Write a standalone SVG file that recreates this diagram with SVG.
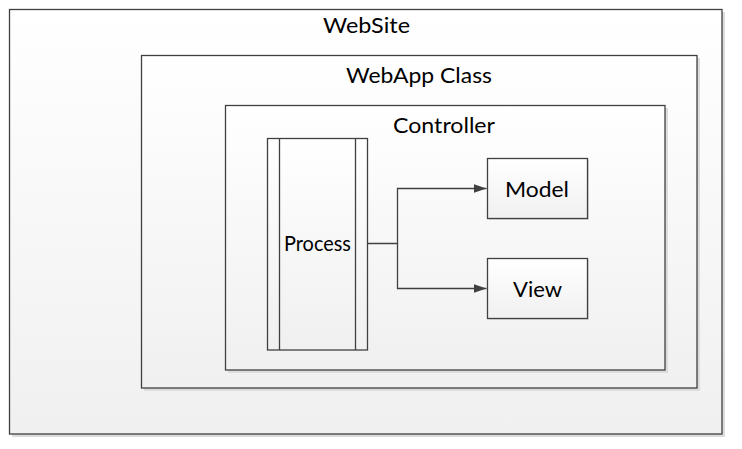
<svg xmlns="http://www.w3.org/2000/svg" width="742" height="449" viewBox="0 0 742 449">
<defs>
<linearGradient id="g" x1="0" y1="0" x2="0" y2="1">
<stop offset="0" stop-color="#ffffff"/>
<stop offset="1" stop-color="#f0f0f0"/>
</linearGradient>
<marker id="arr" markerWidth="13" markerHeight="9" refX="13" refY="4.5" orient="auto" markerUnits="userSpaceOnUse">
<path d="M0,0 L13,4.5 L0,9 Z" fill="#404040"/>
</marker>
</defs>
<style>
.box{fill:url(#g);stroke:#404040;stroke-width:1.3}
.sh{fill:#dcdcdc}
.t{font-family:Lato,"Open Sans",sans-serif;fill:#000;text-anchor:middle;font-size:22px}
.c{fill:none;stroke:#404040;stroke-width:1.3}
</style>
<rect width="742" height="449" fill="#ffffff"/>
<g id="website">
<rect class="sh" x="12" y="12" width="713" height="425"/>
<rect class="box" x="9.5" y="9.5" width="712.5" height="424.5"/>
<text class="t" x="366.5" y="33" textLength="87" lengthAdjust="spacingAndGlyphs">WebSite</text>
</g>
<g id="webapp">
<rect class="sh" x="144" y="58" width="556" height="333"/>
<rect class="box" x="141.5" y="55.5" width="555.5" height="332.5"/>
<text class="t" x="419" y="83" textLength="146" lengthAdjust="spacingAndGlyphs">WebApp Class</text>
</g>
<g id="controller">
<rect class="sh" x="228" y="108" width="440" height="265"/>
<rect class="box" x="225.5" y="105.5" width="439.5" height="264.5"/>
<text class="t" x="444" y="133" textLength="102" lengthAdjust="spacingAndGlyphs">Controller</text>
</g>
<g id="process">
<rect class="box" x="267.5" y="138.5" width="100" height="211.5"/>
<line class="c" x1="279.5" y1="138.5" x2="279.5" y2="350"/>
<line class="c" x1="355.5" y1="138.5" x2="355.5" y2="350"/>
<text class="t" x="317.5" y="251" textLength="67" lengthAdjust="spacingAndGlyphs">Process</text>
</g>
<g id="model">
<rect class="sh" x="489" y="160" width="100" height="60"/>
<rect class="box" x="487.5" y="158.5" width="100" height="60"/>
<text class="t" x="537" y="196.5" textLength="64" lengthAdjust="spacingAndGlyphs">Model</text>
</g>
<g id="view">
<rect class="sh" x="489" y="260" width="100" height="60"/>
<rect class="box" x="487.5" y="258.5" width="100" height="60"/>
<text class="t" x="537.5" y="297" textLength="49" lengthAdjust="spacingAndGlyphs">View</text>
</g>
<g id="connectors">
<path class="c" d="M367.5,243.5 H397.5 V188.5 H486.5" marker-end="url(#arr)"/>
<path class="c" d="M397.5,243.5 V288.5 H486.5" marker-end="url(#arr)"/>
</g>
</svg>
